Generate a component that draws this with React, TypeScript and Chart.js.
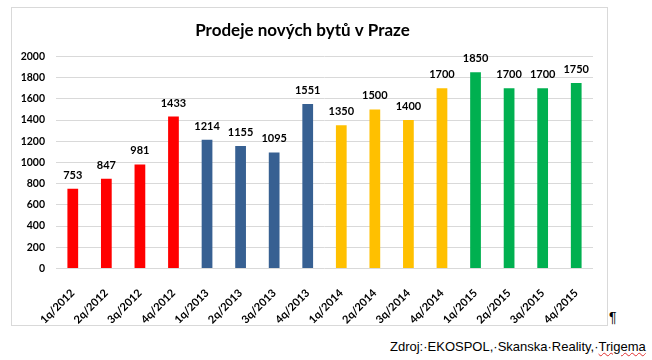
import React, { useEffect, useRef } from "react";
import { Chart, registerables } from "chart.js";

Chart.register(...registerables);

const title = "Prodeje nových bytů v Praze";
const categories = [
  "1q/2012", "2q/2012", "3q/2012", "4q/2012",
  "1q/2013", "2q/2013", "3q/2013", "4q/2013",
  "1q/2014", "2q/2014", "3q/2014", "4q/2014",
  "1q/2015", "2q/2015", "3q/2015", "4q/2015",
];
const values = [753, 847, 981, 1433, 1214, 1155, 1095, 1551, 1350, 1500, 1400, 1700, 1850, 1700, 1700, 1750];
const years = ["2012", "2013", "2014", "2015"];
const yearColors = ["#FF0000", "#376092", "#FFC000", "#00B050"];
const yMin = 0;
const yMax = 2000;
const yStep = 200;
const sourcePrefix = "Zdroj:·EKOSPOL,·Skanska·Reality,·";
const sourceLast = "Trigema";

const barColors = categories.map((c) => yearColors[years.indexOf(c.split("/")[1])]);

const FONT = "Lato, 'Open Sans', sans-serif";

const valueLabels = {
  id: "valueLabels",
  afterDatasetsDraw(chart: any) {
    const ctx = chart.ctx;
    const meta = chart.getDatasetMeta(0);
    ctx.save();
    ctx.font = `bold 11px ${FONT}`;
    ctx.fillStyle = "#000";
    ctx.textAlign = "center";
    ctx.textBaseline = "alphabetic";
    meta.data.forEach((bar: any, i: number) => {
      ctx.fillText(String(values[i]), bar.x, bar.y - 10);
    });
    ctx.restore();
  },
};

export default function App() {
  const ref = useRef<HTMLCanvasElement | null>(null);

  useEffect(() => {
    const prevMargin = document.body.style.margin;
    document.body.style.margin = "0";
    const chart = new Chart(ref.current as HTMLCanvasElement, {
      type: "bar",
      data: {
        labels: categories,
        datasets: [
          {
            data: values,
            backgroundColor: barColors,
            borderWidth: 0,
            barPercentage: 0.32,
            categoryPercentage: 1,
          },
        ],
      },
      options: {
        responsive: false,
        animation: false,
        devicePixelRatio: 1,
        layout: { padding: { left: 0, right: 14, top: 0, bottom: 0 } },
        plugins: {
          legend: { display: false },
          tooltip: { enabled: false },
          title: {
            display: true,
            text: title,
            color: "#000",
            font: { family: FONT, size: 17, weight: "bold", lineHeight: 1.2 },
            padding: { top: 12, bottom: 16 },
          },
        },
        scales: {
          x: {
            grid: { display: false },
            border: { display: false },
            ticks: {
              color: "#000",
              font: { family: FONT, size: 11, weight: "bold" },
              minRotation: 45,
              maxRotation: 45,
              autoSkip: false,
              padding: 10,
            },
            afterFit(scale: any) {
              scale.height = 56.5;
            },
          },
          y: {
            min: yMin,
            max: yMax,
            grid: { color: "#d9d9d9", drawTicks: false, lineWidth: 1 },
            border: { display: false },
            ticks: {
              stepSize: yStep,
              color: "#000",
              padding: 11,
              font: { family: FONT, size: 10.5, weight: "bold" },
              callback: (v: any) => String(v),
            },
            afterFit(scale: any) {
              scale.width = 44;
            },
          },
        },
      },
      plugins: [valueLabels],
    });
    return () => {
      chart.destroy();
      document.body.style.margin = prevMargin;
    };
  }, []);

  return (
    <div style={{ position: "absolute", left: 0, top: 0, width: 652, height: 360, background: "#fff", overflow: "hidden" }}>
      <div
        style={{
          position: "absolute",
          left: 11,
          top: 7,
          width: 597,
          height: 319,
          boxSizing: "border-box",
          border: "1px solid #d9d9d9",
        }}
      >
        <canvas ref={ref} width={595} height={317} style={{ display: "block", width: 595, height: 317 }} />
      </div>
      <div
        style={{
          position: "absolute",
          left: 609,
          top: 309,
          fontFamily: "'Liberation Sans', Arial, sans-serif",
          fontSize: 14,
          color: "#000",
          lineHeight: "16px",
        }}
      >
        ¶
      </div>
      <div
        style={{
          position: "absolute",
          left: 390,
          top: 339,
          fontFamily: "'Liberation Sans', Arial, sans-serif",
          fontSize: 13,
          color: "#000",
          whiteSpace: "nowrap",
          lineHeight: "16px",
        }}
      >
        {sourcePrefix}
        <span style={{ textDecoration: "underline wavy #e03030", textDecorationThickness: 1 }}>{sourceLast}</span>
      </div>
    </div>
  );
}
